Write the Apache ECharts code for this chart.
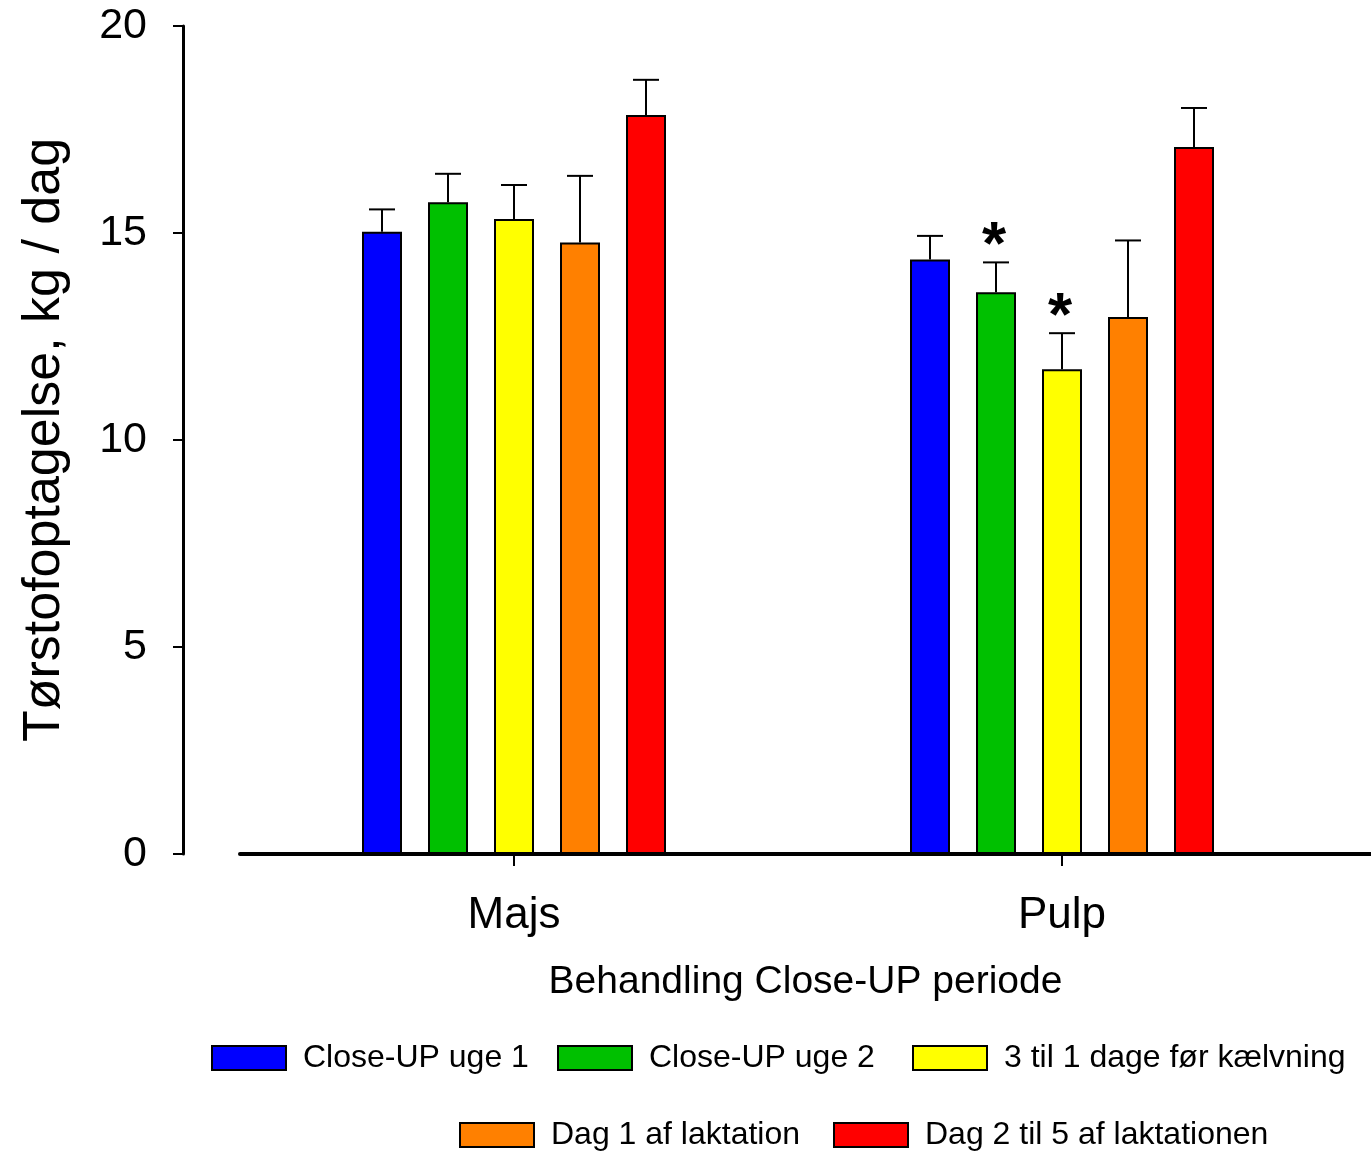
<!DOCTYPE html>
<html>
<head>
<meta charset="utf-8">
<title>Tørstofoptagelse</title>
<script src="https://cdn.jsdelivr.net/npm/echarts@6/dist/echarts.min.js"></script>
<style>
  html, body { margin: 0; padding: 0; background: #fff; }
  #chart { width: 1371px; height: 1151px; }
</style>
</head>
<body>
<div id="chart"></div>
<script>
// Feeding groups on the x axis
const categories = ['Majs', 'Pulp'];

// Period names (legend) and bar colours
const periodNames = ['Close-UP uge 1', 'Close-UP uge 2', '3 til 1 dage før kælvning', 'Dag 1 af laktation', 'Dag 2 til 5 af laktationen'];
const periodColors = ['#0000FF', '#00C000', '#FFFF00', '#FF8000', '#FF0000'];

// Mean dry matter intake, kg / dag  [Majs, Pulp]
const closeUpWeek1 = [15.03, 14.36];
const closeUpWeek2 = [15.74, 13.57];
const daysBeforeCalving = [15.34, 11.71];
const lactationDay1 = [14.77, 12.97];
const lactationDay2to5 = [17.85, 17.08];

// Standard errors (upper whisker length)  [Majs, Pulp]
const seWeek1 = [0.54, 0.57];
const seWeek2 = [0.69, 0.72];
const seBeforeCalving = [0.82, 0.87];
const seLactationDay1 = [1.61, 1.85];
const seLactationDay2to5 = [0.85, 0.94];

// Significance marks above the whiskers  [Majs, Pulp]
const markWeek1 = ['', ''];
const markWeek2 = ['', '*'];
const markBeforeCalving = ['', '*'];
const markLactationDay1 = ['', ''];
const markLactationDay2to5 = ['', ''];

// Y axis ticks
const yTicks = [0, 5, 10, 15, 20];

const means = [closeUpWeek1, closeUpWeek2, daysBeforeCalving, lactationDay1, lactationDay2to5];
const errors = [seWeek1, seWeek2, seBeforeCalving, seLactationDay1, seLactationDay2to5];
const marks = [markWeek1, markWeek2, markBeforeCalving, markLactationDay1, markLactationDay2to5];

const FONT = "'Liberation Sans', Arial, Helvetica, sans-serif";
const BAR_WIDTH = 40;
const BAR_GAP = 26;          // px between neighbouring bars in a group
const CAP_HALF = 13;         // half width of the whisker cap
const nBars = periodNames.length;

// Legend entry placement: two rows under the plot
const legendSlots = [
  { left: 211, top: 1042 },
  { left: 557, top: 1042 },
  { left: 912, top: 1042 },
  { left: 459, top: 1119 },
  { left: 833, top: 1119 }
];

const chart = echarts.init(document.getElementById('chart'), null, { renderer: 'canvas' });

const barSeries = periodNames.map((name, si) => ({
  type: 'bar',
  name: name,
  xAxisIndex: 0,
  yAxisIndex: 0,
  data: means[si],
  barWidth: BAR_WIDTH,
  barGap: (BAR_GAP / BAR_WIDTH * 100) + '%',
  itemStyle: { color: periodColors[si], borderColor: '#000', borderWidth: 2 },
  emphasis: { disabled: true },
  z: 2
}));

const errorSeries = periodNames.map((name, si) => ({
  type: 'custom',
  name: name + ' SE',
  xAxisIndex: 0,
  yAxisIndex: 0,
  data: categories.map((c, ci) => [ci, means[si][ci], errors[si][ci]]),
  renderItem: function (params, api) {
    const ci = api.value(0);
    const m = api.value(1);
    const e = api.value(2);
    const base = api.coord([ci, m]);
    const top = api.coord([ci, m + e]);
    const x = base[0] + (si - (nBars - 1) / 2) * (BAR_WIDTH + BAR_GAP);
    const style = { stroke: '#000', lineWidth: 2 };
    const children = [
      { type: 'line', shape: { x1: x, y1: base[1], x2: x, y2: top[1] }, style: style },
      { type: 'line', shape: { x1: x - CAP_HALF, y1: top[1], x2: x + CAP_HALF, y2: top[1] }, style: style }
    ];
    const mark = marks[si][params.dataIndex];
    if (mark) {
      children.push({
        type: 'text',
        style: {
          text: mark, x: x - 2, y: top[1] - 15,
          align: 'center', verticalAlign: 'middle',
          font: 'bold 62px ' + FONT, fill: '#000'
        }
      });
    }
    return { type: 'group', children: children };
  },
  silent: true,
  z: 1
}));

const legends = periodNames.map((name, i) => ({
  data: [name],
  left: legendSlots[i].left,
  top: legendSlots[i].top,
  orient: 'horizontal',
  icon: 'rect',
  padding: 0,
  itemWidth: 74,
  itemHeight: 24,
  selectedMode: false,
  textStyle: { fontFamily: FONT, fontSize: 32, color: '#000', padding: [0, 0, 0, 12] }
}));

const option = {
  backgroundColor: '#fff',
  animation: false,
  grid: [
    { left: 240, right: 35, top: 26, bottom: 297 },
    { left: 240, right: 0, top: 26, bottom: 297 }
  ],
  legend: legends,
  xAxis: [
    {
      type: 'category',
      gridIndex: 0,
      data: categories,
      axisLine: { show: false },
      axisTick: { show: true, alignWithLabel: true, length: 12, lineStyle: { color: '#000', width: 2 } },
      axisLabel: { fontFamily: FONT, fontSize: 44, color: '#000', margin: 40 },
      splitLine: { show: false }
    },
    {
      type: 'value',
      gridIndex: 1,
      min: 0,
      max: 1,
      axisLine: { show: true, lineStyle: { color: '#000', width: 4 } },
      axisTick: { show: false },
      axisLabel: { show: false },
      splitLine: { show: false },
      name: 'Behandling Close-UP periode',
      nameLocation: 'middle',
      nameGap: 109,
      nameTextStyle: { fontFamily: FONT, fontSize: 39, color: '#000' }
    }
  ],
  yAxis: [
    {
      type: 'value',
      gridIndex: 0,
      min: yTicks[0],
      max: yTicks[yTicks.length - 1],
      interval: yTicks[1] - yTicks[0],
      offset: 57,
      axisLine: { show: true, lineStyle: { color: '#000', width: 3 } },
      axisTick: { show: true, length: 10, lineStyle: { color: '#000', width: 2 } },
      axisLabel: { fontFamily: FONT, fontSize: 43, color: '#000', margin: 36 },
      splitLine: { show: false },
      name: 'Tørstofoptagelse, kg / dag',
      nameLocation: 'middle',
      nameGap: 112,
      nameTextStyle: { fontFamily: FONT, fontSize: 52, color: '#000' }
    },
    {
      type: 'value',
      gridIndex: 1,
      show: false,
      min: 0,
      max: 1
    }
  ],
  series: barSeries.concat(errorSeries)
};

chart.setOption(option);
</script>
</body>
</html>
